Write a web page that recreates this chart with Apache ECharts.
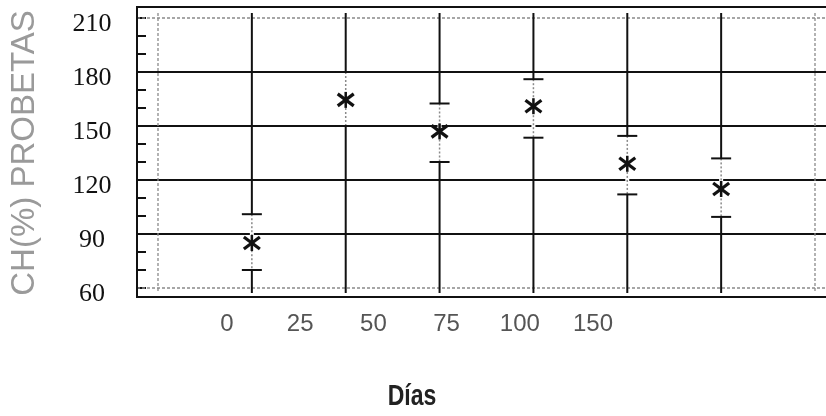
<!DOCTYPE html>
<html>
<head>
<meta charset="utf-8">
<script src="https://cdn.jsdelivr.net/npm/echarts@6/dist/echarts.min.js"></script>
<style>
html,body{margin:0;padding:0;background:#fff;}
#c{width:826px;height:416px;}
</style>
</head>
<body>
<div id="c"></div>
<script>
// ---- data ----
const DAYS = ['0', '25', '50', '75', '100', '150'];
const MEAN = [85, 164.5, 147, 161, 129, 115];
const UPPER = [101, 180, 162.5, 176, 144.5, 132];
const LOWER = [70, 150, 130, 143.5, 112, 99.5];
const Y_TICKS = [60, 90, 120, 150, 180, 210];
const X_NAME = 'Días';
const Y_NAME = 'CH(%) PROBETAS';

// ---- layout ----
const W = 826, H = 416;
const GRID = { left: 157, top: 18, right: 11, bottom: 128 };
const LABEL_GRID = { left: 227, top: 18, right: 233, bottom: 128 };
const FRAME = { left: GRID.left - 20, top: GRID.top - 11, bottom: H - GRID.bottom + 9 };
const Y_MIN = Y_TICKS[0], Y_MAX = Y_TICKS[Y_TICKS.length - 1];
const X_MIN = -1, X_MAX = DAYS.length;

const DARK = '#111';
const GREY = '#8a8a8a';

const chart = echarts.init(document.getElementById('c'), null, { renderer: 'canvas' });

const hData = Y_TICKS.map(v => [0, v]);
const vData = [];
for (let i = X_MIN; i <= X_MAX; i++) vData.push([i, Y_MIN]);
const pts = DAYS.map((d, i) => [i, MEAN[i], LOWER[i], UPPER[i]]);

function hLines(params, api) {
  const v = api.value(1);
  const p = api.coord([0, v]);
  const edge = (v === Y_MIN || v === Y_MAX);
  return {
    type: 'line',
    shape: { x1: FRAME.left, y1: p[1], x2: W, y2: p[1] },
    style: edge ? { stroke: GREY, lineWidth: 1.3, lineDash: [3, 2] } : { stroke: DARK, lineWidth: 2 }
  };
}
function vLines(params, api) {
  const cs = params.coordSys;
  const x = api.value(0);
  const p = api.coord([x, Y_MIN]);
  const edge = (x === X_MIN || x === X_MAX);
  return {
    type: 'line',
    shape: { x1: p[0], y1: cs.y - 5, x2: p[0], y2: cs.y + cs.height + 5 },
    style: edge ? { stroke: GREY, lineWidth: 1.3, lineDash: [3, 2] } : { stroke: DARK, lineWidth: 2 }
  };
}
function errBars(params, api) {
  const x = api.value(0);
  const c = api.coord([x, api.value(1)]);
  const lo = api.coord([x, api.value(2)]);
  const hi = api.coord([x, api.value(3)]);
  const s = 8;
  const children = [
    { type: 'line', shape: { x1: c[0], y1: hi[1], x2: c[0], y2: lo[1] }, style: { stroke: '#fff', lineWidth: 4 } },
    { type: 'line', shape: { x1: c[0], y1: hi[1], x2: c[0], y2: lo[1] }, style: { stroke: GREY, lineWidth: 1.5, lineDash: [2, 2] } },
    { type: 'line', shape: { x1: c[0] - 10, y1: hi[1], x2: c[0] + 10, y2: hi[1] }, style: { stroke: DARK, lineWidth: 2 } },
    { type: 'line', shape: { x1: c[0] - 10, y1: lo[1], x2: c[0] + 10, y2: lo[1] }, style: { stroke: DARK, lineWidth: 2 } },
    { type: 'line', shape: { x1: c[0], y1: c[1] - s, x2: c[0], y2: c[1] + s }, style: { stroke: DARK, lineWidth: 2.5 } },
    { type: 'line', shape: { x1: c[0] - s, y1: c[1] - s * 0.75, x2: c[0] + s, y2: c[1] + s * 0.75 }, style: { stroke: DARK, lineWidth: 3.2 } },
    { type: 'line', shape: { x1: c[0] - s, y1: c[1] + s * 0.75, x2: c[0] + s, y2: c[1] - s * 0.75 }, style: { stroke: DARK, lineWidth: 3.2 } }
  ];
  return { type: 'group', children };
}

chart.setOption({
  animation: false,
  backgroundColor: '#fff',
  grid: [
    { left: GRID.left, top: GRID.top, right: GRID.right, bottom: GRID.bottom, containLabel: false },
    { left: LABEL_GRID.left, top: LABEL_GRID.top, right: LABEL_GRID.right, bottom: LABEL_GRID.bottom, containLabel: false }
  ],
  xAxis: [
    {
      gridIndex: 0, type: 'value', min: X_MIN, max: X_MAX, interval: 1,
      axisLine: { show: false }, axisTick: { show: false }, splitLine: { show: false },
      axisLabel: { show: false }
    },
    {
      gridIndex: 1, type: 'value', min: 0, max: DAYS.length - 1, interval: 1,
      axisLine: { show: false }, axisTick: { show: false }, splitLine: { show: false },
      axisLabel: {
        formatter: v => DAYS[v] !== undefined ? DAYS[v] : '',
        margin: 36, verticalAlign: 'middle',
        fontFamily: 'Liberation Sans', fontSize: 24, color: '#555'
      }
    }
  ],
  yAxis: [
    {
      gridIndex: 0, type: 'value', min: Y_MIN, max: Y_MAX, interval: 30, offset: 20,
      axisLine: { show: false, onZero: false },
      axisTick: { show: true, inside: true, length: 8, lineStyle: { color: DARK, width: 2 } },
      minorTick: { show: true, splitNumber: 3, length: 8, lineStyle: { color: DARK, width: 2 } },
      splitLine: { show: false },
      axisLabel: {
        align: 'center', margin: 46, verticalAlign: 'top', lineHeight: 13,
        fontFamily: 'Liberation Serif', fontSize: 26, color: DARK
      },
      name: Y_NAME, nameLocation: 'middle', nameRotate: 90, nameGap: 97,
      nameTextStyle: { fontFamily: 'Liberation Sans', fontSize: 33, color: '#9a9a9a' }
    },
    {
      gridIndex: 1, type: 'value', min: Y_MIN, max: Y_MAX, show: false
    }
  ],
  graphic: [
    {
      type: 'polyline', silent: true, z: 10,
      shape: { points: [[W, FRAME.top], [FRAME.left, FRAME.top], [FRAME.left, FRAME.bottom], [W, FRAME.bottom]] },
      style: { stroke: DARK, lineWidth: 2, fill: null }
    },
    {
      type: 'text', x: 412, y: 397, scaleY: 1.25,
      style: { text: X_NAME, align: 'center', verticalAlign: 'middle', font: 'bold 23px "Liberation Sans"', fill: '#222' }
    }
  ],
  series: [
    { type: 'custom', name: 'h', xAxisIndex: 0, yAxisIndex: 0, data: hData, renderItem: hLines, silent: true, z: 1 },
    { type: 'custom', name: 'v', xAxisIndex: 0, yAxisIndex: 0, data: vData, renderItem: vLines, silent: true, z: 2 },
    { type: 'custom', name: 'CH', xAxisIndex: 0, yAxisIndex: 0, data: pts, renderItem: errBars, silent: true, z: 3 }
  ]
});
</script>
</body>
</html>
